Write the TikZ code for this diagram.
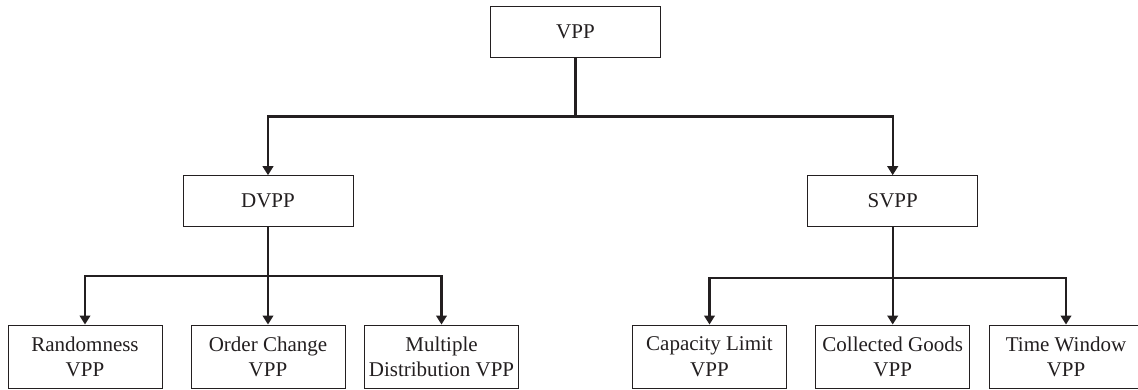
\documentclass[tikz,border=0pt]{standalone}
\usepackage{fontspec}
\setmainfont{Liberation Serif}
\usetikzlibrary{arrows.meta}
\definecolor{ink}{HTML}{231F20}
\tikzset{
  x=1pt,y=-1pt,
  box/.style={draw=ink,line width=1pt,fill=white,text=ink,inner sep=0pt,align=center,font=\fontsize{21}{25.5}\selectfont,anchor=center},
  topbox/.style={box,minimum width=170pt,minimum height=51pt},
  leafbox/.style={box,minimum width=154pt,minimum height=63.5pt},
  link/.style={draw=ink,line width=2.3pt},
  linkarrow/.style={link,-{Triangle[length=9pt,width=10.5pt]}}
}
\begin{document}
\begin{tikzpicture}
\useasboundingbox (0,0) rectangle (1138,389);
\node[topbox] (vpp) at (575.5,32) {VPP};
\node[topbox] (dvpp) at (268,201.2) {DVPP};
\node[topbox] (svpp) at (892.7,201.2) {SVPP};
\node[leafbox] (l1) at (85,356.8) {Randomness\\VPP};
\node[leafbox] (l2) at (268,356.8) {Order Change\\VPP};
\node[leafbox] (l3) at (441.5,356.8) {Multiple\\Distribution VPP};
\node[leafbox] (r1) at (709.5,356.8) {Capacity Limit\\VPP};
\node[leafbox] (r2) at (892.7,356.8) {Collected Goods\\VPP};
\node[leafbox] (r3) at (1066,356.8) {Time Window\\VPP};
\coordinate (jt) at (575.5,116.5);
\coordinate (jd) at (268,276);
\coordinate (js) at (892.7,278);
\draw[link] (vpp.south) -- (jt);
\draw[linkarrow] (jt) -| (dvpp.north);
\draw[linkarrow] (jt) -| (svpp.north);
\draw[link] (dvpp.south) -- (jd);
\draw[linkarrow] (jd) -| (l1.north);
\draw[linkarrow] (jd) -- (l2.north);
\draw[linkarrow] (jd) -| (l3.north);
\draw[link] (svpp.south) -- (js);
\draw[linkarrow] (js) -| (r1.north);
\draw[linkarrow] (js) -- (r2.north);
\draw[linkarrow] (js) -| (r3.north);
\end{tikzpicture}
\end{document}
